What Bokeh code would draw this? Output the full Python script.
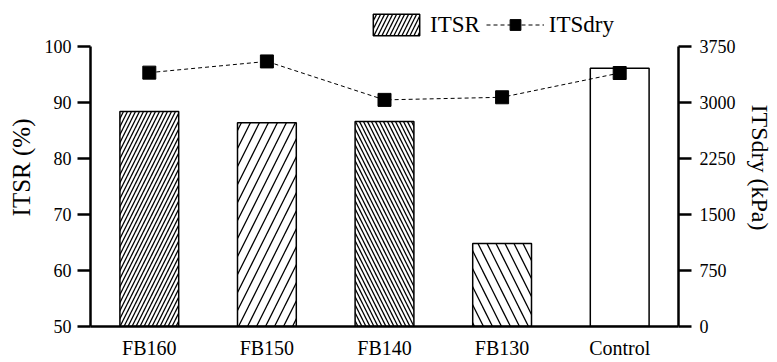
from bokeh.plotting import figure
from bokeh.models import (ColumnDataSource, Range1d, LinearAxis, FixedTicker,
                          Legend, LegendItem, FactorRange, InlineStyleSheet)
from bokeh.embed import file_html
from bokeh.resources import INLINE

categories = ["FB160", "FB150", "FB140", "FB130", "Control"]
itsr = [88.4, 86.4, 86.6, 64.8, 96.1]
itsdry = [3400, 3550, 3035, 3070, 3395]
hatch_patterns = ["/", "/", "\\", "\\", " "]
hatch_scales = [8, 18, 8, 18, 8]
left_ticks = [50, 60, 70, 80, 90, 100]
right_ticks = [0, 750, 1500, 2250, 3000, 3750]

FONT = "Liberation Serif"

# layout: frame spans 318 px; axis 50..100 occupies the lower 280 px
FRAME_H = 318
PX_PER_PCT = 280 / 50
PX_PER_KPA = 280 / 3750
left_top = 50 + FRAME_H / PX_PER_PCT
right_top = FRAME_H / PX_PER_KPA

src = ColumnDataSource(dict(cat=categories, itsr=itsr, itsdry=itsdry,
                            hp=hatch_patterns, hs=hatch_scales))

p = figure(frame_width=588, frame_height=FRAME_H, output_backend="svg",
           toolbar_location=None,
           x_range=FactorRange(*categories, range_padding=0),
           y_range=Range1d(50, left_top),
           min_border_left=90, min_border_right=99, min_border_top=8,
           min_border_bottom=28)
p.stylesheets = [InlineStyleSheet(css="text { font-family: 'Liberation Serif', serif !important; }")]
p.extra_y_ranges = {"dry": Range1d(0, right_top)}
p.outline_line_color = None
p.xgrid.grid_line_color = None
p.ygrid.grid_line_color = None

bars = p.vbar(x="cat", top="itsr", bottom=50, width=0.5, source=src,
              fill_color="white", line_color="black", line_width=1.5,
              hatch_pattern="hp", hatch_scale="hs", hatch_color="black",
              hatch_weight=1.3)

ln = p.line(x="cat", y="itsdry", source=src, y_range_name="dry",
            line_color="black", line_width=1, line_dash="4 3")
mk = p.scatter(x="cat", y="itsdry", source=src, y_range_name="dry",
               marker="square", size=13, fill_color="black", line_color="black")

ya = p.yaxis[0]
ya.ticker = FixedTicker(ticks=left_ticks)
ya.bounds = (50, 100)
ya.axis_label = "ITSR (%)"
xa = p.xaxis[0]

for ax in (ya, xa):
    ax.axis_line_width = 2.5
    ax.axis_line_color = "black"
    ax.major_tick_line_width = 2.5
    ax.minor_tick_line_color = None

ya.major_tick_out = 13
ya.major_tick_in = 0
ya.major_label_standoff = 6
ya.major_label_text_font = FONT
ya.major_label_text_font_size = "18px"
ya.major_label_text_color = "black"
ya.axis_label_text_font = FONT
ya.axis_label_text_font_size = "25px"
ya.axis_label_text_font_style = "normal"
ya.axis_label_text_color = "black"
ya.axis_label_standoff = 7

xa.major_tick_line_color = None
xa.major_tick_out = 0
xa.major_label_standoff = 10
xa.major_label_text_font = FONT
xa.major_label_text_font_size = "20px"
xa.major_label_text_color = "black"

ra = LinearAxis(y_range_name="dry", ticker=FixedTicker(ticks=right_ticks),
                bounds=(0, 3750), axis_label="ITSdry (kPa)")
ra.axis_line_width = 2.5
ra.major_tick_line_width = 2.5
ra.minor_tick_line_color = None
ra.major_tick_out = 13
ra.major_tick_in = 0
ra.major_label_standoff = 8
ra.major_label_text_font = FONT
ra.major_label_text_font_size = "18px"
ra.major_label_text_color = "black"
ra.axis_label_text_font = FONT
ra.axis_label_text_font_size = "24px"
ra.axis_label_text_font_style = "normal"
ra.axis_label_text_color = "black"
ra.axis_label_standoff = 8
p.add_layout(ra, "right")

legend = Legend(items=[LegendItem(label="ITSR", renderers=[bars], index=0),
                       LegendItem(label="ITSdry", renderers=[ln, mk])],
                orientation="horizontal", location=(277, 288),
                glyph_width=58, glyph_height=27, padding=0, margin=0,
                spacing=6, label_standoff=5,
                label_text_font=FONT, label_text_font_size="23px",
                label_text_color="black",
                border_line_color=None, background_fill_alpha=0)
p.add_layout(legend)

open("out.html", "w").write(file_html(p, INLINE))
